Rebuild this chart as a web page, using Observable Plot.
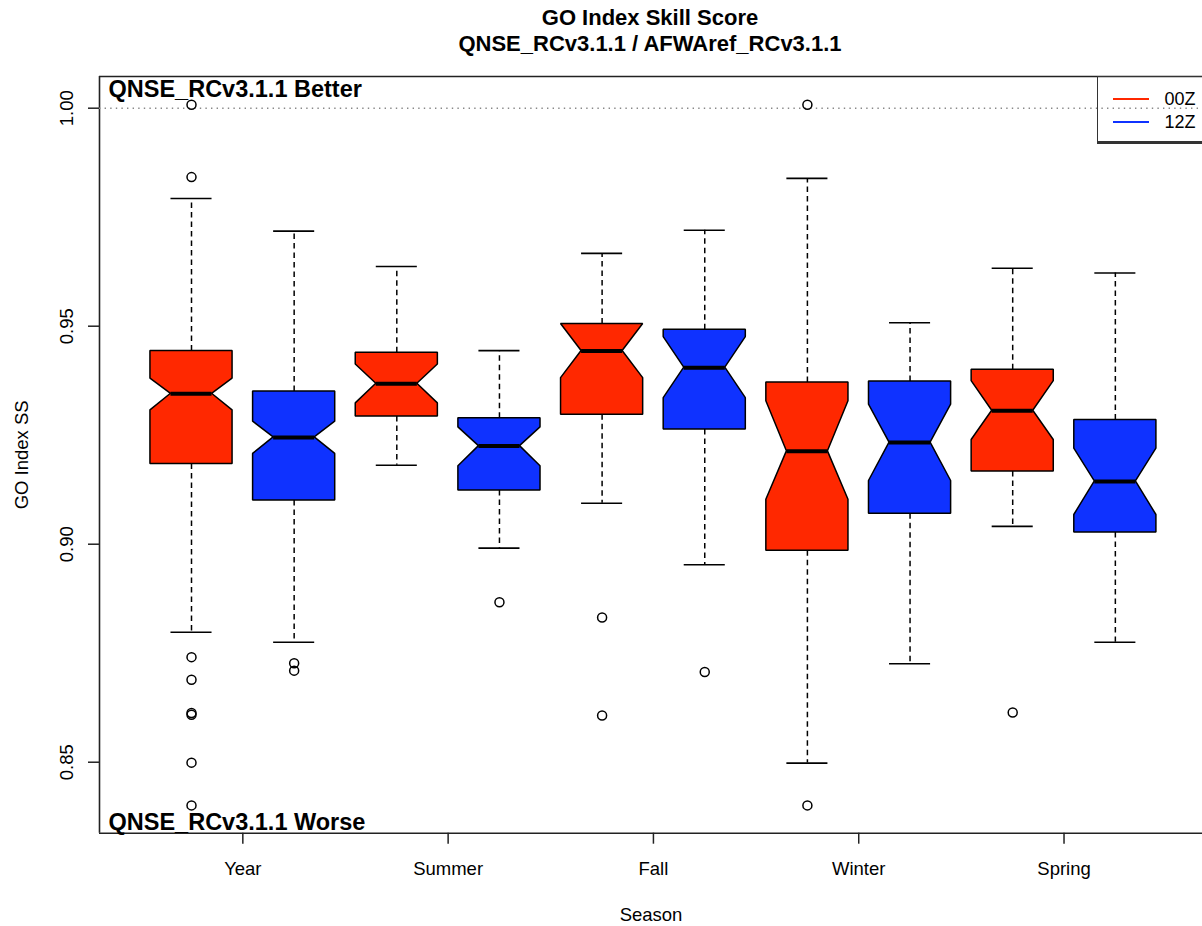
<!DOCTYPE html>
<html>
<head>
<meta charset="utf-8">
<script src="https://cdn.jsdelivr.net/npm/d3@7"></script>
<script src="https://cdn.jsdelivr.net/npm/@observablehq/plot@0.6"></script>
<style>
  html, body { margin: 0; padding: 0; background: #fff; overflow: hidden; }
  #wrap { position: relative; width: 1202px; height: 926px; font-family: "Liberation Sans", Arial, Helvetica, sans-serif; }
  #title { box-sizing: border-box; height: 60px; padding-top: 4.8px; text-align: center; font-weight: bold; font-size: 22px; line-height: 26.6px; color: #000; width: 1300px; }
  #legend { position: absolute; left: 1097px; top: 76px; width: 140px; height: 68px; box-sizing: border-box; border: 1.5px solid #333; border-bottom-width: 3px; }
  .lg-line { position: absolute; left: 15px; width: 36px; height: 2px; }
  .lg-text { position: absolute; left: 66.5px; font-size: 18px; line-height: 18px; color: #000; }
  svg { display: block; }
</style>
</head>
<body>
<div id="wrap">
  <div id="title"><div id="t1"></div><div id="t2"></div></div>
  <div id="chart"></div>
  <div id="legend"></div>
</div>
<script>
// ---- data ----
const titleLine1 = "GO Index Skill Score";
const titleLine2 = "QNSE_RCv3.1.1 / AFWAref_RCv3.1.1";
const betterLabel = "QNSE_RCv3.1.1 Better";
const worseLabel = "QNSE_RCv3.1.1 Worse";
const xLabel = "Season";
const yLabel = "GO Index SS";

const seasons = ["Year", "Summer", "Fall", "Winter", "Spring"];
const runs = ["00Z", "12Z"];
const runColors = ["#FF2800", "#0F32FF"];

// one value per box, ordered Year 00Z, Year 12Z, Summer 00Z, Summer 12Z, ...
const lowerWhisker = [0.8798, 0.8775, 0.9181, 0.8991, 0.9094, 0.8953, 0.8498, 0.8726, 0.9041, 0.8775];
const q1           = [0.9184, 0.9100, 0.9293, 0.9123, 0.9297, 0.9263, 0.8985, 0.9070, 0.9167, 0.9027];
const notchLow     = [0.9307, 0.9207, 0.9323, 0.9179, 0.9381, 0.9335, 0.9102, 0.9145, 0.9239, 0.9067];
const median       = [0.9345, 0.9245, 0.9368, 0.9225, 0.9443, 0.9405, 0.9213, 0.9233, 0.9306, 0.9144];
const notchHigh    = [0.9380, 0.9281, 0.9412, 0.9268, 0.9505, 0.9475, 0.9328, 0.9320, 0.9374, 0.9219];
const q3           = [0.9443, 0.9350, 0.9439, 0.9289, 0.9505, 0.9492, 0.9371, 0.9373, 0.9400, 0.9285];
const upperWhisker = [0.9793, 0.9718, 0.9637, 0.9444, 0.9667, 0.9720, 0.9839, 0.9508, 0.9633, 0.9622];
const outliers = [
  [1.0008, 0.9842, 0.8741, 0.8689, 0.8613, 0.8609, 0.8499, 0.8401],
  [0.8727, 0.8710],
  [],
  [0.8867],
  [0.8832, 0.8607],
  [0.8707],
  [1.0008, 0.8401],
  [],
  [0.8614],
  []
];
const yTicks = [0.85, 0.90, 0.95, 1.00];
const referenceValue = 1.00;

// ---- build tables ----
const boxHalf = 0.4, notchHalf = 0.2;
const boxes = median.map((m, i) => ({
  pos: i + 1,
  season: seasons[Math.floor(i / 2)],
  run: runs[i % 2],
  lw: lowerWhisker[i], q1: q1[i], nl: notchLow[i], med: m, nh: notchHigh[i], q3: q3[i], uw: upperWhisker[i]
}));
const shapeRows = boxes.flatMap(b => [
  {pos: b.pos, run: b.run, y: b.q1,  x1: b.pos - boxHalf,   x2: b.pos + boxHalf},
  {pos: b.pos, run: b.run, y: b.nl,  x1: b.pos - boxHalf,   x2: b.pos + boxHalf},
  {pos: b.pos, run: b.run, y: b.med, x1: b.pos - notchHalf, x2: b.pos + notchHalf},
  {pos: b.pos, run: b.run, y: b.nh,  x1: b.pos - boxHalf,   x2: b.pos + boxHalf},
  {pos: b.pos, run: b.run, y: b.q3,  x1: b.pos - boxHalf,   x2: b.pos + boxHalf}
]);
const outlierRows = outliers.flatMap((arr, i) => arr.map(v => ({pos: i + 1, value: v})));
const seasonRows = seasons.map((s, k) => ({season: s, pos: 2 * k + 1.5}));

const xDomain = [0.1037, 10.849];
const yDomain = [0.83372, 1.00727];

const fontAxis = 18.5;
const ink = "#000";

const plot = Plot.plot({
  width: 1202,
  height: 866,
  marginTop: 16,
  marginBottom: 93.3,
  marginLeft: 99,
  marginRight: 0,
  style: {fontFamily: "'Liberation Sans', Arial, Helvetica, sans-serif", background: "#fff", color: "#000"},
  x: {domain: xDomain, axis: null},
  y: {domain: yDomain, axis: null},
  color: {domain: runs, range: runColors},
  marks: [
    // frame (left, top, bottom)
    Plot.ruleX([xDomain[0]], {stroke: "#222", strokeWidth: 1.6}),
    Plot.ruleY([yDomain[1]], {stroke: "#222", strokeWidth: 1.6}),
    Plot.ruleY([yDomain[0]], {stroke: "#222", strokeWidth: 1.6}),
    // reference line
    Plot.ruleY([referenceValue], {stroke: "#888", strokeWidth: 1.4, strokeDasharray: "1.4,4.2"}),
    // axis ticks
    Plot.axisY({ticks: yTicks, tickSize: 11, tickFormat: () => "", label: null, stroke: "#222", strokeWidth: 1.5}),
    Plot.axisX({ticks: seasonRows.map(d => d.pos), tickSize: 11, tickFormat: () => "", label: null, stroke: "#222", strokeWidth: 1.5}),
    // y tick labels (rotated)
    Plot.text(yTicks, {y: d => d, frameAnchor: "left", dx: -26.3, rotate: -90, text: d => d.toFixed(2),
      textAnchor: "middle", lineAnchor: "bottom", fontSize: fontAxis, fill: ink}),
    // x tick labels
    Plot.text(seasonRows, {x: "pos", frameAnchor: "bottom", dy: 41.6, text: "season",
      textAnchor: "middle", lineAnchor: "bottom", fontSize: fontAxis, fill: ink}),
    // axis titles
    Plot.text([xLabel], {frameAnchor: "bottom", dy: 87.3, text: d => d, lineAnchor: "bottom", fontSize: fontAxis, fill: ink}),
    Plot.text([yLabel], {frameAnchor: "left", dx: -71.7, rotate: -90, text: d => d, textAnchor: "middle",
      lineAnchor: "bottom", fontSize: fontAxis, fill: ink}),
    // whiskers
    Plot.ruleX(boxes, {x: "pos", y1: "q3", y2: "uw", stroke: ink, strokeWidth: 1.5, strokeDasharray: "5.5,4"}),
    Plot.ruleX(boxes, {x: "pos", y1: "q1", y2: "lw", stroke: ink, strokeWidth: 1.5, strokeDasharray: "5.5,4"}),
    Plot.ruleY(boxes, {y: "uw", x1: d => d.pos - notchHalf, x2: d => d.pos + notchHalf, stroke: ink, strokeWidth: 1.6}),
    Plot.ruleY(boxes, {y: "lw", x1: d => d.pos - notchHalf, x2: d => d.pos + notchHalf, stroke: ink, strokeWidth: 1.6}),
    // notched boxes
    Plot.areaX(shapeRows, {y: "y", x1: "x1", x2: "x2", z: "pos", fill: "run", stroke: ink, strokeWidth: 1.5,
      strokeLinejoin: "miter", curve: "linear"}),
    // medians
    Plot.ruleY(boxes, {y: "med", x1: d => d.pos - notchHalf, x2: d => d.pos + notchHalf, stroke: ink, strokeWidth: 4}),
    // outliers
    Plot.dot(outlierRows, {x: "pos", y: "value", r: 4.5, stroke: ink, strokeWidth: 1.5, fill: "none"}),
    // corner annotations
    Plot.text([betterLabel], {frameAnchor: "top-left", dx: 9, dy: 20.7, text: d => d, textAnchor: "start",
      lineAnchor: "bottom", fontSize: 23.5, fontWeight: "bold", fill: ink}),
    Plot.text([worseLabel], {frameAnchor: "bottom-left", dx: 9, dy: -3.7, text: d => d, textAnchor: "start",
      lineAnchor: "bottom", fontSize: 23.5, fontWeight: "bold", fill: ink})
  ]
});
document.getElementById("chart").appendChild(plot);

// title
document.getElementById("t1").textContent = titleLine1;
document.getElementById("t2").textContent = titleLine2;

// legend
const legend = document.getElementById("legend");
runs.forEach((r, i) => {
  const line = document.createElement("div");
  line.className = "lg-line";
  line.style.top = (21 + i * 23) + "px";
  line.style.backgroundColor = runColors[i];
  legend.appendChild(line);
  const t = document.createElement("div");
  t.className = "lg-text";
  t.style.top = (13 + i * 22.7) + "px";
  t.textContent = r;
  legend.appendChild(t);
});
</script>
</body>
</html>
